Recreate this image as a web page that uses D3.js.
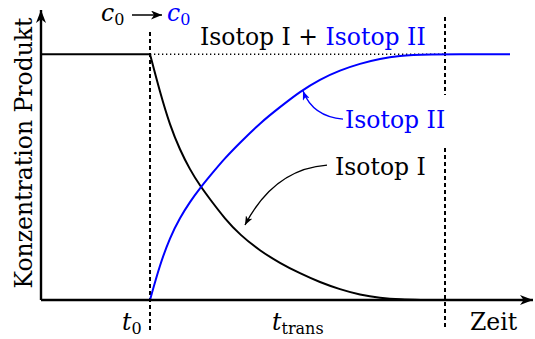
<!DOCTYPE html>
<html>
<head>
<meta charset="utf-8">
<script src="https://cdn.jsdelivr.net/npm/d3@7"></script>
<style>
  body { margin: 0; background: #fff; }
  text { font-family: "DejaVu Serif", serif; }
</style>
</head>
<body>
<div id="chart"></div>
<script>
'use strict';

// time axis, t0 = 0, tTrans = end of the transient
var tStart = -1.09, tEnd = 3.83;
var t0 = 0, tTrans = 2.95;
var c0 = 1;

// Isotop I (decays after t0)
var decayT = [0, 0.1, 0.2, 0.3, 0.4, 0.5, 0.6, 0.75, 0.9, 1.1, 1.3, 1.5, 1.7, 1.9, 2.1, 2.3, 2.5, 2.75];
var decayV = [1, 0.845, 0.71, 0.61, 0.53, 0.465, 0.41, 0.33, 0.265, 0.2, 0.15, 0.108, 0.072, 0.043, 0.021, 0.008, 0.002, 0];

// Isotop II (grows after t0)
var growT = [0, 0.1, 0.2, 0.3, 0.4, 0.5, 0.6, 0.75, 0.9, 1.1, 1.3, 1.5, 1.7, 1.9, 2.1, 2.3, 2.5, 2.7, 3.6];
var growV = [0, 0.145, 0.255, 0.335, 0.40, 0.455, 0.505, 0.578, 0.64, 0.72, 0.785, 0.848, 0.898, 0.935, 0.962, 0.982, 0.994, 1, 1];

var width = 535, height = 339;
var blue = '#0000ff';

var svg = d3.select('#chart').append('svg')
  .attr('width', width)
  .attr('height', height);

var x = d3.scaleLinear().domain([tStart, tEnd]).range([41, 533]);
var y = d3.scaleLinear().domain([0, 1.18]).range([300, 10]);

var defs = svg.append('defs');
function marker(id, color, len, half) {
  defs.append('marker')
    .attr('id', id)
    .attr('viewBox', [-len, -half, len, 2 * half].join(' '))
    .attr('markerWidth', len)
    .attr('markerHeight', 2 * half)
    .attr('markerUnits', 'userSpaceOnUse')
    .attr('refX', 0)
    .attr('refY', 0)
    .attr('orient', 'auto')
    .append('path')
    .attr('d', 'M0,0L' + (-len) + ',' + (-half) + 'L' + (-len * 0.72) + ',0L' + (-len) + ',' + half + 'Z')
    .attr('fill', color);
}
marker('axisHead', '#000', 13, 5);
marker('midHead', '#000', 11, 4.5);
marker('blackHead', '#000', 9, 3.6);
marker('blueHead', blue, 9, 3.6);

var line = d3.line()
  .x(function(d) { return x(d[0]); })
  .y(function(d) { return y(d[1]); });

var smooth = d3.line()
  .x(function(d) { return x(d[0]); })
  .y(function(d) { return y(d[1]); })
  .curve(d3.curveBasis);

var bend = function(p) {
  return 'M' + x(p[0][0]) + ',' + y(p[0][1]) +
    'Q' + x(p[1][0]) + ',' + y(p[1][1]) + ' ' + x(p[2][0]) + ',' + y(p[2][1]);
};

// dotted sum line
svg.append('path')
  .attr('d', line([[t0, c0], [tTrans, c0]]))
  .attr('fill', 'none')
  .attr('stroke', '#000')
  .attr('stroke-width', 1.3)
  .attr('stroke-dasharray', '1.3,2.7');

// dashed markers at t0 and tTrans
function dash(t, a, b) {
  svg.append('path')
    .attr('d', line([[t, a], [t, b]]))
    .attr('fill', 'none')
    .attr('stroke', '#000')
    .attr('stroke-width', 2)
    .attr('stroke-dasharray', '4,3');
}
dash(t0, 1.09, -0.122);
dash(tTrans, 1.152, 0.834);
dash(tTrans, 0.618, -0.122);

// Isotop I
svg.append('path')
  .attr('d', line([[tStart, c0], [t0, c0]]))
  .attr('fill', 'none')
  .attr('stroke', '#000')
  .attr('stroke-width', 2);

svg.append('path')
  .attr('d', smooth(d3.zip(decayT, decayV)))
  .attr('fill', 'none')
  .attr('stroke', '#000')
  .attr('stroke-width', 2);

// Isotop II
svg.append('path')
  .attr('d', smooth(d3.zip(growT, growV)))
  .attr('fill', 'none')
  .attr('stroke', blue)
  .attr('stroke-width', 2);

// axes
svg.append('path')
  .attr('d', line([[tStart, 0], [tEnd, 0]]))
  .attr('stroke', '#000')
  .attr('stroke-width', 2.4)
  .attr('marker-end', 'url(#axisHead)');

svg.append('path')
  .attr('d', line([[tStart, 0], [tStart, y.domain()[1]]]))
  .attr('stroke', '#000')
  .attr('stroke-width', 2.4)
  .attr('marker-end', 'url(#axisHead)');

// annotation arrows
svg.append('path')
  .attr('d', bend([[1.77, 0.549], [1.24, 0.533], [0.95, 0.305]]))
  .attr('fill', 'none')
  .attr('stroke', '#000')
  .attr('stroke-width', 1.4)
  .attr('marker-end', 'url(#blackHead)');

svg.append('path')
  .attr('d', bend([[1.93, 0.736], [1.63, 0.745], [1.53, 0.85]]))
  .attr('fill', 'none')
  .attr('stroke', blue)
  .attr('stroke-width', 1.4)
  .attr('marker-end', 'url(#blueHead)');

// c0 -> c0 arrow above
svg.append('path')
  .attr('d', 'M' + (x(t0) - 18) + ',15H' + (x(t0) + 12))
  .attr('stroke', '#000')
  .attr('stroke-width', 1.5)
  .attr('marker-end', 'url(#midHead)');

// texts
var fs = 23.5, sub = 16;

var sumLabel = svg.append('text')
  .attr('x', 200)
  .attr('y', 45)
  .attr('font-size', fs);
sumLabel.append('tspan').text('Isotop I + ');
sumLabel.append('tspan').attr('fill', blue).text('Isotop II');

svg.append('text')
  .attr('x', 345)
  .attr('y', 128)
  .attr('font-size', fs)
  .attr('fill', blue)
  .text('Isotop II');

svg.append('text')
  .attr('x', 335)
  .attr('y', 175)
  .attr('font-size', fs)
  .text('Isotop I');

svg.append('text')
  .attr('x', 470)
  .attr('y', 330)
  .attr('font-size', fs)
  .text('Zeit');

svg.append('text')
  .attr('transform', 'translate(32,153) rotate(-90)')
  .attr('text-anchor', 'middle')
  .attr('font-size', fs)
  .text('Konzentration Produkt');

function mathLabel(px, py, sym, idx, color) {
  var t = svg.append('text')
    .attr('x', px)
    .attr('y', py)
    .attr('font-size', fs)
    .attr('fill', color || '#000');
  t.append('tspan').attr('font-style', 'italic').text(sym);
  t.append('tspan').attr('font-size', sub).attr('dy', 4).text(idx);
}
mathLabel(122, 330, 't', '0');
mathLabel(272, 330, 't', 'trans');
mathLabel(101, 21, 'c', '0');
mathLabel(167, 21, 'c', '0', blue);
</script>
</body>
</html>
